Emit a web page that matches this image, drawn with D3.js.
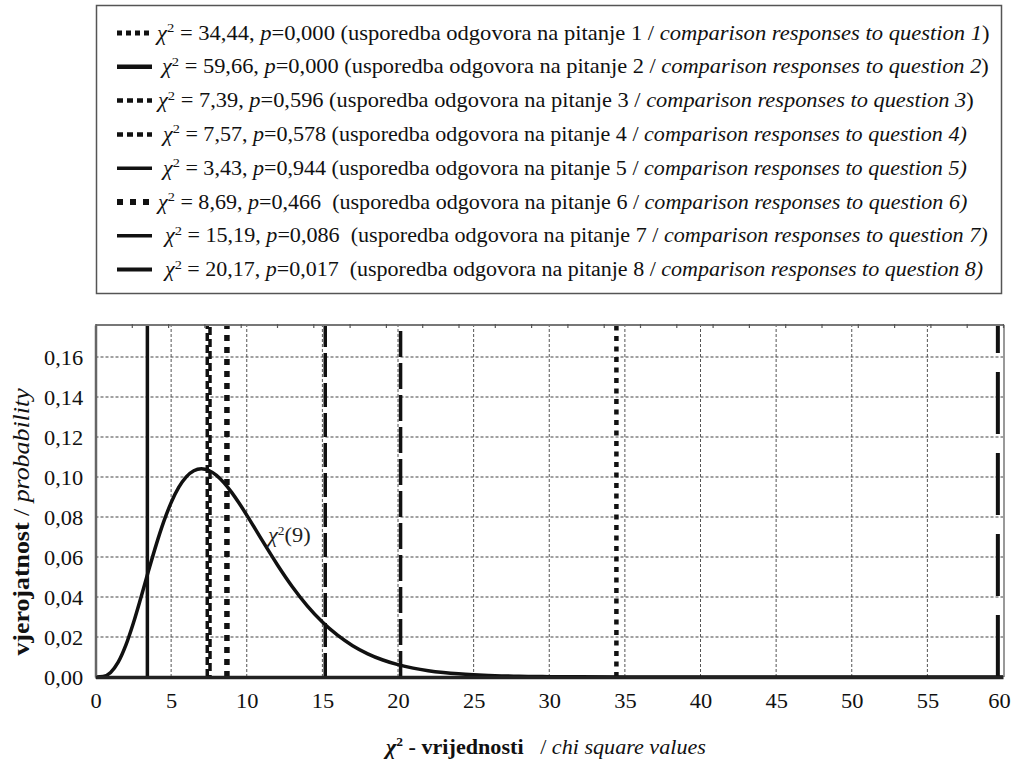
<!DOCTYPE html>
<html>
<head>
<meta charset="utf-8">
<script src="https://cdn.jsdelivr.net/npm/d3@7/dist/d3.min.js"></script>
<style>
  html, body { margin: 0; padding: 0; background: #fff; }
</style>
</head>
<body>
<svg id="chart" width="1012" height="761" font-family="Liberation Serif"></svg>
<script>
// Chi-square density curve with 9 degrees of freedom (sampled points)
const curveX = [0, 0.5, 1, 1.5, 2, 2.5, 3, 3.5, 4, 4.5, 5, 5.5, 6, 6.5, 7, 7.5, 8, 8.5, 9, 9.5, 10,
  11, 12, 13, 14, 15, 16, 17, 18, 19, 20, 21, 22, 23, 24, 25, 26, 27, 28, 29, 30, 32, 35, 40, 45, 50, 55, 60];
const curveY = [0, 0.00026, 0.00230, 0.00742, 0.01581, 0.02689, 0.03965, 0.05296, 0.06582, 0.07741, 0.08718,
  0.09477, 0.10009, 0.10315, 0.10412, 0.10324, 0.10078, 0.09704, 0.09231, 0.08687, 0.08096,
  0.06855, 0.05638, 0.04525, 0.03557, 0.02747, 0.02088, 0.01566, 0.01160, 0.00850, 0.00617,
  0.00444, 0.00317, 0.00225, 0.00158, 0.00111, 0.00077, 0.00053, 0.00037, 0.00025, 0.00017,
  0.00008, 0.00002, 0.000002, 0, 0, 0, 0];

// Observed chi-square statistics per question
const questions = [1, 2, 3, 4, 5, 6, 7, 8];
const chiValues = [34.44, 59.66, 7.39, 7.57, 3.43, 8.69, 15.19, 20.17];
const pValues = ["0,000", "0,000", "0,596", "0,578", "0,944", "0,466", "0,086", "0,017"];

// Axis ticks
const xTicks = [0, 5, 10, 15, 20, 25, 30, 35, 40, 45, 50, 55, 60];
const yTicks = [0, 0.02, 0.04, 0.06, 0.08, 0.10, 0.12, 0.14, 0.16];
const topAxisDomain = [0, 25];

// Line styles for each question's vertical marker
const markerStyles = [
  { w: 4.5, dash: "5,5.5", legendDash: "5,4", legendW: 5 },
  { w: 4, dash: "62,19", legendDash: null, legendW: 4.5 },
  { w: 3.5, dash: "8,4", legendDash: "6,4", legendW: 4.5 },
  { w: 3.5, dash: "8,4", legendDash: "6,4", legendW: 4.5, offset: 6 },
  { w: 3.5, dash: null, legendDash: null, legendW: 3.5 },
  { w: 5.5, dash: "6,6", legendDash: "6,7", legendW: 6 },
  { w: 3.5, dash: "24,6", legendDash: null, legendW: 3.5 },
  { w: 3.5, dash: "26,6", legendDash: null, legendW: 4 }
];

const SERIF = "Liberation Serif";
const FS = 20;      // base font size
const SX = 1.12;    // horizontal stretch of the typeface
const legendStretch = [1.128, 1.12, 1.12, 1.104, 1.104, 1.104, 1.107, 1.101];
const textStart = [157, 162, 158, 163, 163, 158, 165, 165];

const locale = d3.formatLocale({ decimal: ",", thousands: ".", grouping: [3], currency: ["", ""] });
const fmt2 = locale.format(".2f");

const svg = d3.select("#chart");

const x = d3.scaleLinear().domain([0, 60]).range([95.5, 1003]);
const y = d3.scaleLinear().domain([0, 0.176]).range([677, 325]);
const xTop = d3.scaleLinear().domain(topAxisDomain).range([95.5, 1003]);

// text anchored at (px, py) with the wide serif look
function wideText(parent, px, py, size, sx) {
  return parent.append("text")
    .attr("transform", `translate(${px},${py}) scale(${sx || SX},1)`)
    .attr("font-family", SERIF).attr("font-size", size || FS).attr("fill", "#111")
    .attr("xml:space", "preserve");
}

// ---- Legend box ----
const legend = svg.append("g");
legend.append("rect")
  .attr("x", 96.5).attr("y", 5.5).attr("width", 905).attr("height", 288)
  .attr("fill", "#fff").attr("stroke", "#555").attr("stroke-width", 1.5);

const rowY = d => 33 + d * 33.8;

questions.forEach((q, i) => {
  const st = markerStyles[i];
  const cy = rowY(i);
  legend.append("line")
    .attr("x1", 117).attr("x2", 152).attr("y1", cy).attr("y2", cy)
    .attr("stroke", "#111").attr("stroke-width", st.legendW)
    .attr("stroke-dasharray", st.legendDash);

  const t = wideText(legend, textStart[i], cy + 6.5, FS, legendStretch[i]);
  t.append("tspan").attr("font-style", "italic").text("χ");
  t.append("tspan").attr("font-size", 13).attr("dy", -7.5).text("2");
  t.append("tspan").attr("dy", 7.5).text(" = " + fmt2(chiValues[i]) + ", ");
  t.append("tspan").attr("font-style", "italic").text("p");
  const gap = i >= 5 ? "  " : " ";
  t.append("tspan")
    .text("=" + pValues[i] + gap + "(usporedba odgovora na pitanje " + q + " / ");
  t.append("tspan").attr("font-style", "italic")
    .text("comparison responses to question " + q + (i >= 3 ? ")" : ""));
  if (i < 3) t.append("tspan").text(")");
});

// ---- Plot area ----
const plot = svg.append("g");

// grid
plot.append("g").selectAll("line").data(yTicks.slice(1)).join("line")
  .attr("x1", x(0)).attr("x2", x(60)).attr("y1", d => y(d)).attr("y2", d => y(d))
  .attr("stroke", "#444").attr("stroke-width", 1).attr("stroke-dasharray", "3,2");
plot.append("g").selectAll("line").data(xTicks.slice(1, -1)).join("line")
  .attr("x1", d => x(d)).attr("x2", d => x(d)).attr("y1", y(0)).attr("y2", y(0.176))
  .attr("stroke", "#555").attr("stroke-width", 1).attr("stroke-dasharray", "3,2");

// density curve
const pts = curveX.map((v, i) => [v, curveY[i]]);
plot.append("path")
  .datum(pts)
  .attr("fill", "none").attr("stroke", "#111").attr("stroke-width", 3.5)
  .attr("d", d3.line().x(d => x(d[0])).y(d => y(d[1])).curve(d3.curveMonotoneX));

// vertical markers
chiValues.forEach((v, i) => {
  const st = markerStyles[i];
  plot.append("line")
    .attr("x1", x(v)).attr("x2", x(v)).attr("y1", y(0)).attr("y2", y(0.176))
    .attr("stroke", "#111").attr("stroke-width", st.w)
    .attr("stroke-dasharray", st.dash)
    .attr("stroke-dashoffset", st.offset || 0);
});

// curve label
const cl = wideText(plot, 268, 542);
cl.attr("fill", "#222");
cl.append("tspan").attr("font-style", "italic").text("χ");
cl.append("tspan").attr("font-size", 12).attr("dy", -7).text("2");
cl.append("tspan").attr("dy", 7).text("(9)");

// frame: top and right borders
plot.append("line").attr("x1", x(0)).attr("x2", x(60) + 1).attr("y1", y(0.176)).attr("y2", y(0.176))
  .attr("stroke", "#777").attr("stroke-width", 2);
plot.append("line").attr("x1", x(60) + 1).attr("x2", x(60) + 1).attr("y1", y(0.176)).attr("y2", y(0))
  .attr("stroke", "#777").attr("stroke-width", 1.5);

// top secondary axis ticks
const topAxis = d3.axisBottom(xTop).ticks(25).tickSize(4).tickFormat("");
plot.append("g").attr("transform", `translate(0,${y(0.176) - 1})`).call(topAxis)
  .call(g => g.select(".domain").remove())
  .call(g => g.selectAll(".tick line").attr("stroke", "#555").attr("stroke-width", 1.2));

// left axis
const yAxis = d3.axisLeft(y).tickValues(yTicks).tickFormat(fmt2).tickSize(0).tickPadding(11);
plot.append("g").attr("transform", `translate(${x(0)},0)`).call(yAxis)
  .attr("font-family", SERIF).attr("font-size", FS)
  .call(g => g.select(".domain").attr("stroke", "#666").attr("stroke-width", 2.5))
  .call(g => g.selectAll(".tick text").attr("fill", "#111").attr("dy", "0.35em")
    .attr("transform", `scale(${SX},1)`));

// bottom axis (last label nudged inwards so it stays on the page)
const xAxis = d3.axisBottom(x).tickValues(xTicks).tickFormat(d3.format("d")).tickSize(0).tickPadding(17);
plot.append("g").attr("transform", `translate(0,${y(0)})`).call(xAxis)
  .attr("font-family", SERIF).attr("font-size", FS)
  .call(g => g.select(".domain").attr("stroke", "#222").attr("stroke-width", 3.5))
  .call(g => g.selectAll(".tick text").attr("fill", "#111")
    .attr("transform", d => `translate(${d === 60 ? -4 : 0},0) scale(${SX},1)`));

// axis titles
const yt = svg.append("text")
  .attr("transform", "translate(29,522) rotate(-90) scale(1.15,1)")
  .attr("font-family", SERIF)
  .attr("text-anchor", "middle").attr("font-size", 22.5).attr("fill", "#111")
  .attr("xml:space", "preserve");
yt.append("tspan").attr("font-weight", "bold").text("vjerojatnost");
yt.append("tspan").text(" / ");
yt.append("tspan").attr("font-style", "italic").text("probability");

const xt = wideText(svg, 386, 754, 20.5, 1.08);
xt.append("tspan").attr("font-weight", "bold").attr("font-style", "italic").text("χ");
xt.append("tspan").attr("font-weight", "bold").attr("font-size", 12.5).attr("dy", -8).text("2");
xt.append("tspan").attr("font-weight", "bold").attr("dy", 8).text(" - vrijednosti");
xt.append("tspan").text("   / ");
xt.append("tspan").attr("font-style", "italic").text("chi square values");
</script>
</body>
</html>
